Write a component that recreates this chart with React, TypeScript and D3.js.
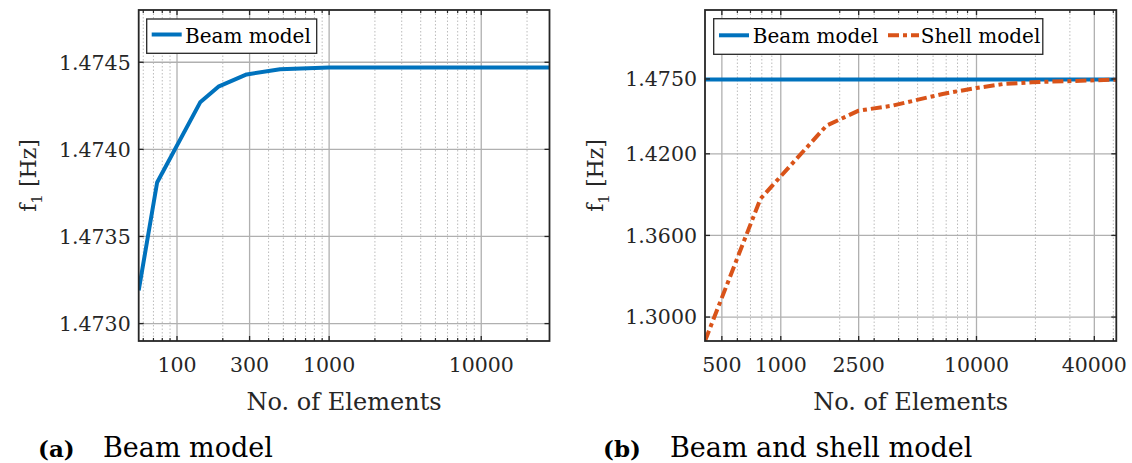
import React from 'react';
import * as d3 from 'd3';

// ---------- data ----------
const beamN = [56, 74, 142, 187, 287, 476, 1000, 2000, 28100];
const beamF = [1.47319, 1.47381, 1.47427, 1.47436, 1.47443, 1.47446, 1.47447, 1.47447, 1.47447];

const shellN = [410, 787, 1712, 2500, 3727, 6715, 10000, 13700, 19200, 51800];
const shellF = [1.2824, 1.3869, 1.4407, 1.4517, 1.4554, 1.464, 1.4684, 1.4713, 1.4726, 1.4745];

const beamRefN = [410, 51800];
const beamRefF = [1.4746, 1.4746];

const leftXTicks = [100, 300, 1000, 10000];
const leftXLabels = ['100', '300', '1000', '10000'];
const leftYTicks = [1.473, 1.4735, 1.474, 1.4745];
const leftYLabels = ['1.4730', '1.4735', '1.4740', '1.4745'];

const rightXTicks = [500, 1000, 2500, 10000, 40000];
const rightXLabels = ['500', '1000', '2500', '10000', '40000'];
const rightYTicks = [1.3, 1.36, 1.42, 1.475];
const rightYLabels = ['1.3000', '1.3600', '1.4200', '1.4750'];

const FONT = '"DejaVu Serif", serif';
const DARK = '#262626';
const BLUE = '#0072BD';
const ORANGE = '#D95319';

type Series = { xs: number[]; ys: number[]; color: string; dash?: string; name: string };

function logMinor(d0: number, d1: number, majors: number[]) {
  const out: number[] = [];
  for (let e = Math.floor(Math.log10(d0)); e <= Math.ceil(Math.log10(d1)); e++) {
    for (let k = 1; k <= 9; k++) {
      const v = k * Math.pow(10, e);
      if (v >= d0 && v <= d1 && !majors.some((m) => Math.abs(m - v) < 1e-6)) out.push(v);
    }
  }
  return out;
}

type PanelProps = {
  id: string;
  x0: number; x1: number; y0: number; y1: number;
  xDomain: [number, number]; yDomain: [number, number];
  xTicks: number[]; xLabels: string[];
  yTicks: number[]; yLabels: string[];
  series: Series[];
  legend: { x0: number; x1: number; y0: number; y1: number; items: { lx0: number; lx1: number; tx: number }[]; ly: number; ty: number; fs: number };
  yLabelX: number;
};

function Panel(p: PanelProps) {
  const x = d3.scaleLog().domain(p.xDomain).range([p.x0, p.x1]);
  const y = d3.scaleLinear().domain(p.yDomain).range([p.y1, p.y0]);
  const minor = logMinor(p.xDomain[0], p.xDomain[1], p.xTicks);
  const mk = (s: Series) =>
    d3.line<number>()
      .x((_, i) => x(s.xs[i]))
      .y((d) => y(d))(s.ys) as string;
  const tl = 5;
  const tm = 3;
  return (
    <g>
      <defs>
        <clipPath id={`clip-${p.id}`}>
          <rect x={p.x0} y={p.y0} width={p.x1 - p.x0} height={p.y1 - p.y0} />
        </clipPath>
      </defs>
      <rect x={p.x0} y={p.y0} width={p.x1 - p.x0} height={p.y1 - p.y0} fill="#fff" />
      {minor.map((v) => (
        <line key={`mg${v}`} x1={x(v)} x2={x(v)} y1={p.y0} y2={p.y1} stroke="#bcbcbc" strokeWidth={1} strokeDasharray="1.5,2" />
      ))}
      {p.xTicks.map((v) => (
        <line key={`gx${v}`} x1={x(v)} x2={x(v)} y1={p.y0} y2={p.y1} stroke="#b0b0b0" strokeWidth={1.3} />
      ))}
      {p.yTicks.map((v) => (
        <line key={`gy${v}`} x1={p.x0} x2={p.x1} y1={y(v)} y2={y(v)} stroke="#b0b0b0" strokeWidth={1.3} />
      ))}
      <g clipPath={`url(#clip-${p.id})`}>
        {p.series.map((s) => (
          <path key={s.name} d={mk(s)} fill="none" stroke={s.color} strokeWidth={4} strokeDasharray={s.dash} strokeLinejoin="round" />
        ))}
      </g>
      {minor.map((v) => (
        <g key={`mt${v}`}>
          <line x1={x(v)} x2={x(v)} y1={p.y1} y2={p.y1 - tm} stroke={DARK} strokeWidth={1.2} />
          <line x1={x(v)} x2={x(v)} y1={p.y0} y2={p.y0 + tm} stroke={DARK} strokeWidth={1.2} />
        </g>
      ))}
      {p.xTicks.map((v) => (
        <g key={`xt${v}`}>
          <line x1={x(v)} x2={x(v)} y1={p.y1} y2={p.y1 - tl} stroke={DARK} strokeWidth={1.3} />
          <line x1={x(v)} x2={x(v)} y1={p.y0} y2={p.y0 + tl} stroke={DARK} strokeWidth={1.3} />
        </g>
      ))}
      {p.yTicks.map((v) => (
        <g key={`yt${v}`}>
          <line x1={p.x0} x2={p.x0 + tl} y1={y(v)} y2={y(v)} stroke={DARK} strokeWidth={1.3} />
          <line x1={p.x1} x2={p.x1 - tl} y1={y(v)} y2={y(v)} stroke={DARK} strokeWidth={1.3} />
        </g>
      ))}
      <rect x={p.x0} y={p.y0} width={p.x1 - p.x0} height={p.y1 - p.y0} fill="none" stroke={DARK} strokeWidth={1.8} />
      {p.xTicks.map((v, i) => (
        <text key={`xl${v}`} x={x(v)} y={372} textAnchor="middle" fontFamily={FONT} fontSize={20.5} fill={DARK}>
          {p.xLabels[i]}
        </text>
      ))}
      {p.yTicks.map((v, i) => (
        <text key={`yl${v}`} x={p.x0 - 8} y={y(v)} dy="0.36em" textAnchor="end" fontFamily={FONT} fontSize={20.5} fill={DARK}>
          {p.yLabels[i]}
        </text>
      ))}
      <text x={(p.x0 + p.x1) / 2} y={410} textAnchor="middle" fontFamily={FONT} fontSize={24} fill={DARK}>
        No. of Elements
      </text>
      <text transform={`translate(${p.yLabelX},${(p.y0 + p.y1) / 2}) rotate(-90)`} textAnchor="middle" fontFamily={FONT} fontSize={22} fill={DARK}>
        <tspan>f</tspan>
        <tspan fontSize={15} dy={6}>1</tspan>
        <tspan dy={-6}> [Hz]</tspan>
      </text>
      <rect x={p.legend.x0} y={p.legend.y0} width={p.legend.x1 - p.legend.x0} height={p.legend.y1 - p.legend.y0} fill="#fff" stroke={DARK} strokeWidth={1.3} />
      {p.series.slice(0, p.legend.items.length).map((s, i) => {
        const it = p.legend.items[i];
        return (
          <g key={`lg${s.name}`}>
            <line x1={it.lx0} x2={it.lx1} y1={p.legend.ly} y2={p.legend.ly} stroke={s.color} strokeWidth={4} strokeDasharray={s.dash} />
            <text x={it.tx} y={p.legend.ty} fontFamily={FONT} fontSize={p.legend.fs} fill="#000">
              {s.name}
            </text>
          </g>
        );
      })}
    </g>
  );
}

export default function App() {
  const leftSeries: Series[] = [{ xs: beamN, ys: beamF, color: BLUE, name: 'Beam model' }];
  const rightSeries: Series[] = [
    { xs: beamRefN, ys: beamRefF, color: BLUE, name: 'Beam model' },
    { xs: shellN, ys: shellF, color: ORANGE, dash: '11,4,4,4', name: 'Shell model' },
  ];
  return (
    <svg width={1132} height={463} style={{ position: 'absolute', left: 0, top: 0, background: '#fff' }}>
      <rect x={0} y={0} width={1132} height={463} fill="#fff" />
      <Panel
        id="a"
        x0={138.7} x1={549.5} y0={10} y1={341}
        xDomain={[56, 28100]} yDomain={[1.4729, 1.4748]}
        xTicks={leftXTicks} xLabels={leftXLabels}
        yTicks={leftYTicks} yLabels={leftYLabels}
        series={leftSeries}
        yLabelX={36}
        legend={{ x0: 146.7, x1: 316.7, y0: 19, y1: 53.3, ly: 34.5, ty: 42.7, fs: 20, items: [{ lx0: 151.7, lx1: 181.7, tx: 185 }] }}
      />
      <Panel
        id="b"
        x0={705} x1={1116.3} y0={10} y1={341}
        xDomain={[410, 51800]} yDomain={[1.2824, 1.5257]}
        xTicks={rightXTicks} xLabels={rightXLabels}
        yTicks={rightYTicks} yLabels={rightYLabels}
        series={rightSeries}
        yLabelX={603}
        legend={{
          x0: 713.7, x1: 1042.8, y0: 18.7, y1: 54.3, ly: 35.3, ty: 43.4, fs: 20,
          items: [
            { lx0: 719, lx1: 749, tx: 752.7 },
            { lx0: 888, lx1: 919, tx: 920.7 },
          ],
        }}
      />
      <text x={38} y={457} fontFamily={FONT} fontSize={23} fontWeight="bold" fill="#000">(a)</text>
      <text x={103} y={457} fontFamily={FONT} fontSize={27} fill="#000">Beam model</text>
      <text x={603} y={457} fontFamily={FONT} fontSize={23} fontWeight="bold" fill="#000">(b)</text>
      <text x={670} y={457} fontFamily={FONT} fontSize={27} fill="#000">Beam and shell model</text>
    </svg>
  );
}
